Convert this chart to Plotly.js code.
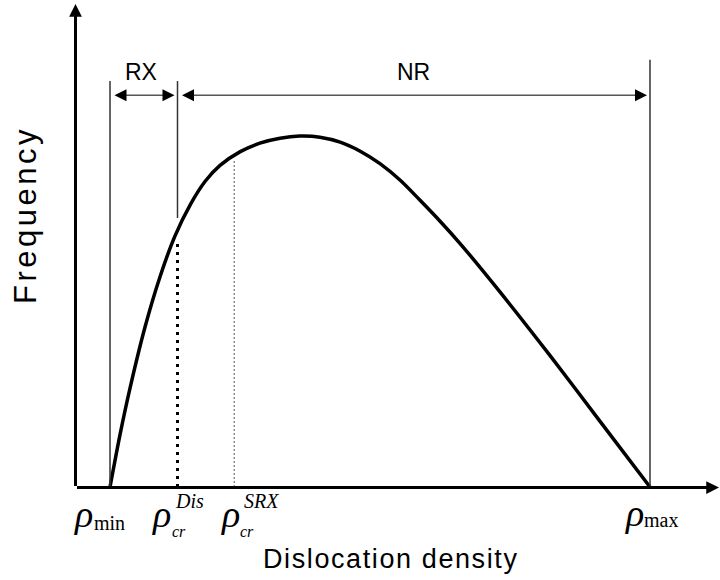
<!DOCTYPE html>
<html>
<head>
<meta charset="utf-8">
<script src="https://cdn.plot.ly/plotly-3.0.1.min.js"></script>
<style>html,body{margin:0;padding:0;background:#fff;}#chart{width:720px;height:580px;}</style>
</head>
<body>
<div id="chart"></div>
<script>
// ---- data ----
const densityX = [1.00, 1.15, 1.30, 1.52, 1.74, 1.96, 2.19, 2.41, 2.63, 2.93, 3.22, 3.52, 3.81, 4.11, 4.41, 4.70, 5.00, 5.30, 5.59, 5.89, 6.19, 6.78, 7.52, 8.26, 9.00];
const frequencyY = [0, 1.50, 2.83, 4.54, 5.95, 7.10, 8.00, 8.66, 9.11, 9.50, 9.74, 9.88, 9.94, 9.91, 9.77, 9.52, 9.16, 8.69, 8.13, 7.53, 6.89, 5.52, 3.72, 1.86, 0];
const rhoMin = 1.0;
const rhoCrDis = 2.0;
const rhoCrSRX = 2.84;
const rhoMax = 9.0;
const freqAtCrDis = 7.0;     // top of thick dotted line
const freqAtCrSRX = 9.26;    // top of thin dotted line
const boundaryTop = 11.5;    // top of rho_min / RX-NR boundary lines
const boundaryLow = 7.62;    // bottom of RX-NR boundary line
const maxLineTop = 12.1;     // top of rho_max line
const arrowLevel = 11.1;     // level of RX / NR arrows
const regionLabels = ["RX", "NR"];
const axisTitles = ["Dislocation density", "Frequency"];

// ---- layout helpers (pixel -> paper) ----
const L = 75, R = 720, T = 5, B = 487;
const px = v => (v - L) / (R - L);
const py = v => (B - v) / (B - T);

const traces = [
  {x: densityX, y: frequencyY, mode: 'lines', line: {color: '#000', width: 3.5, shape: 'spline', smoothing: 0.8}, hoverinfo: 'skip'},
  {x: [rhoMin, rhoMin], y: [0, boundaryTop], mode: 'lines', line: {color: '#333', width: 1.5}, hoverinfo: 'skip'},
  {x: [rhoCrDis, rhoCrDis], y: [boundaryLow, boundaryTop], mode: 'lines', line: {color: '#333', width: 1.5}, hoverinfo: 'skip'},
  {x: [rhoMax, rhoMax], y: [0, maxLineTop], mode: 'lines', line: {color: '#333', width: 1.5}, hoverinfo: 'skip'},
  {x: [rhoCrDis, rhoCrDis], y: [0, freqAtCrDis], mode: 'lines', line: {color: '#000', width: 3, dash: '3px,5px'}, hoverinfo: 'skip'},
  {x: [rhoCrSRX, rhoCrSRX], y: [0, freqAtCrSRX], mode: 'lines', line: {color: '#555', width: 1, dash: '2px,2px'}, hoverinfo: 'skip'}
];

const serif = 'Liberation Serif, Times New Roman, serif';
const sans = 'Liberation Sans, Arial, sans-serif';
function txt(text, x, y, size, family, extra) {
  return Object.assign({text: text, xref: 'paper', yref: 'paper', x: px(x), y: py(y), xanchor: 'center', yanchor: 'middle', showarrow: false, font: {family: family, size: size, color: '#000'}}, extra || {});
}
const spaced = (s, ls) => '<span style="letter-spacing:' + ls + 'px">' + s + '</span>';

const annotations = [
  // axes arrows
  {xref: 'paper', yref: 'paper', x: px(720), y: py(487.5), ax: -(720 - 75.5), ay: 0, text: '', showarrow: true, arrowhead: 2, arrowsize: 0.85, arrowwidth: 3, arrowcolor: '#000', standoff: 0},
  {xref: 'paper', yref: 'paper', x: px(75.5), y: py(4), ax: 0, ay: 483.5, text: '', showarrow: true, arrowhead: 2, arrowsize: 0.85, arrowwidth: 3, arrowcolor: '#000', standoff: 0},
  // RX / NR double arrows
  {xref: 'x', yref: 'y', axref: 'x', ayref: 'y', x: rhoCrDis, y: arrowLevel, ax: rhoMin, ay: arrowLevel, text: '', showarrow: true, arrowside: 'end+start', arrowhead: 2, startarrowhead: 2, arrowsize: 2.4, startarrowsize: 2.4, arrowwidth: 1, arrowcolor: '#000', standoff: 3, startstandoff: 3},
  {xref: 'x', yref: 'y', axref: 'x', ayref: 'y', x: rhoMax, y: arrowLevel, ax: rhoCrDis, ay: arrowLevel, text: '', showarrow: true, arrowside: 'end+start', arrowhead: 2, startarrowhead: 2, arrowsize: 2.4, startarrowsize: 2.4, arrowwidth: 1, arrowcolor: '#000', standoff: 3, startstandoff: 3},
  txt(regionLabels[0], 141, 72, 23, sans),
  txt(regionLabels[1], 413, 72, 23, sans),
  // axis titles
  txt(spaced(axisTitles[0], 1.6), 391, 559, 27, sans),
  txt(spaced(axisTitles[1], 3.5), 25, 215, 31, sans, {textangle: -90}),
  // rho labels
  txt('<i>ρ</i>', 83.5, 514, 38, serif),
  txt('min', 109, 523, 20, serif),
  txt('<i>ρ</i>', 161.5, 514, 38, serif),
  txt('<i>Dis</i>', 189, 501, 20, serif),
  txt('<i>cr</i>', 178.5, 531, 16, serif),
  txt('<i>ρ</i>', 230, 514, 38, serif),
  txt('<i>SRX</i>', 261, 501, 20, serif),
  txt('<i>cr</i>', 247.5, 531, 16, serif),
  txt('<i>ρ</i>', 634, 513, 38, serif),
  txt('max', 660.5, 520, 20, serif)
];

const layout = {
  width: 720, height: 580,
  margin: {l: L, r: 720 - R, t: T, b: 580 - B, pad: 0},
  paper_bgcolor: '#fff', plot_bgcolor: '#fff',
  showlegend: false,
  xaxis: {range: [(L - 42.5) / 67.5, (R - 42.5) / 67.5], showgrid: false, zeroline: false, showticklabels: false, showline: false, ticks: '', fixedrange: true},
  yaxis: {range: [0, (B - T) / 35.3], showgrid: false, zeroline: false, showticklabels: false, showline: false, ticks: '', fixedrange: true},
  annotations: annotations
};

Plotly.newPlot('chart', traces, layout, {displayModeBar: false, staticPlot: true});
</script>
</body>
</html>
